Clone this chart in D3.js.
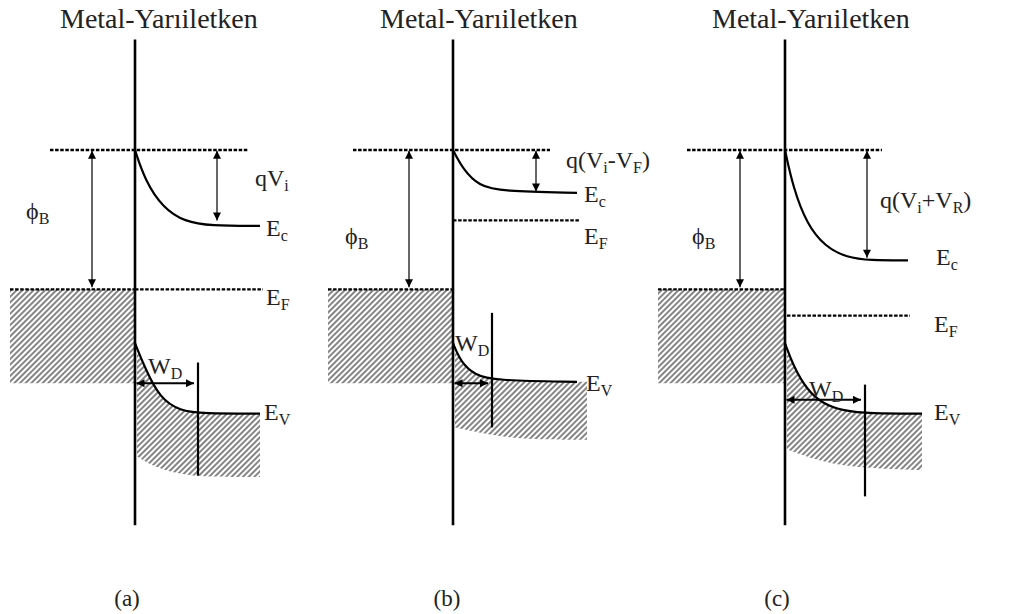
<!DOCTYPE html>
<html><head><meta charset="utf-8">
<script src="https://cdn.jsdelivr.net/npm/d3@7"></script>
<style>body{margin:0;background:#fff}svg{display:block}
text{font-family:"Liberation Serif","Times New Roman",Times,"DejaVu Serif",serif}</style>
</head><body>
<svg id="c" width="1016" height="614"></svg>
<script>
// ---------- data (energy measured downward from the barrier top, phiB = 100 units; distance from interface) ----------
const panels = ["(a)", "(b)", "(c)"];
const titleText = "Metal-Yarıiletken";
const phiB = [100, 100, 100];
const metalEF = [101, 101, 101];
const metalBottom = [169, 169, 169];
const semiEF = [101, 51, 120];
const bendArrow = [51, 30, 78];
const ecDist = [[0, 10, 28, 50, 75, 125], [0, 10, 26, 48, 124], [0, 8, 22, 40, 62, 85, 123]];
const ecLevel = [[0, 22, 42, 52, 55, 55], [0, 14, 26, 30, 31], [0, 27, 54, 70, 78, 80, 80]];
const evDist = [[0, 10, 25, 45, 68, 125], [0, 8, 22, 40, 124], [0, 8, 22, 38, 58, 85, 137]];
const evLevel = [[140, 158, 180, 189, 191, 191], [140, 154, 163, 167, 168], [140, 156, 174, 184, 189, 191, 191]];
const vbDist = [[2, 20, 45, 70, 125], [2, 40, 80, 134], [2, 32, 65, 137]];
const vbLevel = [[222, 230, 235, 237, 237], [201, 207, 210, 210], [217, 225, 230, 232]];
const wdDist = [63, 39, 80];
const wdTop = [154, 118, 170];
const wdBottom = [236, 201, 251];
const wdArrowLevel = [169, 169, 181];
const bendLabel = [
  [["qV", 0], ["i", 1]],
  [["q(V", 0], ["i", 1], ["-V", 0], ["F", 1], [")", 0]],
  [["q(V", 0], ["i", 1], ["+V", 0], ["R", 1], [")", 0]]
];
const ecLabel = [["E", 0], ["c", 1]];
const efLabel = [["E", 0], ["F", 1]];
const evLabel = [["E", 0], ["V", 1]];
const phiLabel = [["ϕ", 0], ["B", 1]];
const wdLabel = [["W", 0], ["D", 1]];

// ---------- layout ----------
const interfaceX = [135, 453, 785];
const topDash = [[-85, 113], [-100, 97], [-98, 97]];
const metalLeft = [-125, -125, -127];
const semiEFRange = [[0, 128], [0, 127], [2, 125]];
const bendArrowX = [82, 83, 82];
const phiArrowX = [-43, -44, -45];
const labelPos = {
  bend: [[255, 186], [566, 168], [880, 208]],
  ec: [[266, 236], [584, 202], [936, 265]],
  ef: [[266, 305], [584, 244], [934, 332]],
  ev: [[264, 420], [586, 391], [934, 420]],
  phi: [[26, 219], [345, 244], [692, 244]],
  wd: [[148, 374], [455, 351], [809, 397]],
  title: [60, 380, 712],
  panel: [127, 447, 777]
};

const svg = d3.select("#c");
const defs = svg.append("defs");
const pat = defs.append("pattern").attr("id", "hatch").attr("patternUnits", "userSpaceOnUse")
  .attr("width", 4).attr("height", 4).attr("patternTransform", "rotate(45)");
pat.append("rect").attr("width", 4).attr("height", 4).attr("fill", "#fff");
pat.append("line").attr("x1", 1).attr("y1", 0).attr("x2", 1).attr("y2", 4)
  .attr("stroke", "#666").attr("stroke-width", 1.6);
defs.append("marker").attr("id", "arr").attr("viewBox", "0 0 10 10").attr("refX", 10).attr("refY", 5)
  .attr("markerUnits", "userSpaceOnUse").attr("markerWidth", 9).attr("markerHeight", 8)
  .attr("orient", "auto-start-reverse")
  .append("path").attr("d", "M0,0 L10,5 L0,10 Z").attr("fill", "#000");

const y = d3.scaleLinear().domain([0, 100]).range([150, 288]);

function label(g, segs, x0, y0, size, sub) {
  const t = g.append("text").attr("x", x0).attr("y", y0)
    .attr("font-size", size).attr("fill", "#222");
  let low = false;
  segs.forEach(([s, isSub]) => {
    const ts = t.append("tspan").text(s);
    if (isSub && !low) { ts.attr("dy", 5).attr("font-size", sub); low = true; }
    else if (isSub) { ts.attr("font-size", sub); }
    else if (low) { ts.attr("dy", -5); low = false; }
  });
  return t;
}

panels.forEach((p, i) => {
  const ix = interfaceX[i];
  const x = d3.scaleLinear().domain([0, 100]).range([ix, ix + 100]);
  const g = svg.append("g");
  const line = d3.line().x(d => x(d[0])).y(d => y(d[1])).curve(d3.curveBasis);

  // metal hatch
  g.append("rect").attr("x", x(metalLeft[i])).attr("y", y(metalEF[i]))
    .attr("width", x(0) - x(metalLeft[i])).attr("height", y(metalBottom[i]) - y(metalEF[i]))
    .attr("fill", "url(#hatch)");

  // semiconductor valence-band hatch
  const ev = evDist[i].map((d, k) => [d, evLevel[i][k]]);
  const vb = vbDist[i].map((d, k) => [d, vbLevel[i][k]]);
  const right = vbDist[i][vbDist[i].length - 1];
  const evLast = evLevel[i][evLevel[i].length - 1];
  const areaPath = "M" + x(vbDist[i][0]) + "," + y(evLevel[i][0]) + "L" + line(ev).slice(1) +
    "L" + x(right) + "," + y(evLast) +
    "L" + line(vb.slice().reverse()).slice(1) + "Z";
  g.append("path").attr("d", areaPath).attr("fill", "url(#hatch)");

  // dashed levels
  const dash = (x1, x2, lv) => g.append("line").attr("x1", x(x1)).attr("x2", x(x2))
    .attr("y1", y(lv)).attr("y2", y(lv)).attr("stroke", "#000")
    .attr("stroke-width", 2.4).attr("stroke-dasharray", "3.5,1.6");
  dash(topDash[i][0], topDash[i][1], 0);
  dash(metalLeft[i], 0, metalEF[i]);
  dash(semiEFRange[i][0], semiEFRange[i][1], semiEF[i]);

  // bands
  g.append("path").attr("d", line(ecDist[i].map((d, k) => [d, ecLevel[i][k]])))
    .attr("fill", "none").attr("stroke", "#000").attr("stroke-width", 2.2);
  g.append("path").attr("d", line(ev)).attr("fill", "none").attr("stroke", "#000").attr("stroke-width", 2.2);

  // interface
  g.append("line").attr("x1", x(0)).attr("x2", x(0)).attr("y1", y(-80)).attr("y2", y(272))
    .attr("stroke", "#000").attr("stroke-width", 2.6);

  // WD line and arrow
  g.append("line").attr("x1", x(wdDist[i])).attr("x2", x(wdDist[i]))
    .attr("y1", y(wdTop[i])).attr("y2", y(wdBottom[i])).attr("stroke", "#000").attr("stroke-width", 2.2);
  g.append("line").attr("x1", x(1.5)).attr("x2", x(wdDist[i] - 4))
    .attr("y1", y(wdArrowLevel[i])).attr("y2", y(wdArrowLevel[i]))
    .attr("stroke", "#000").attr("stroke-width", 2)
    .attr("marker-start", "url(#arr)").attr("marker-end", "url(#arr)");

  // energy arrows
  const varrow = (dx, l1, l2) => g.append("line").attr("x1", x(dx)).attr("x2", x(dx))
    .attr("y1", y(l1)).attr("y2", y(l2)).attr("stroke", "#000").attr("stroke-width", 1.2)
    .attr("marker-start", "url(#arr)").attr("marker-end", "url(#arr)");
  varrow(phiArrowX[i], 0.5, phiB[i] - 0.5);
  varrow(bendArrowX[i], 0.5, bendArrow[i]);

  // labels
  g.append("text").attr("x", labelPos.title[i]).attr("y", 28)
    .attr("font-size", 28).attr("fill", "#222").text(titleText);
  g.append("text").attr("x", labelPos.panel[i]).attr("y", 606).attr("text-anchor", "middle")
    .attr("font-size", 23).attr("fill", "#222").text(p);
  label(g, bendLabel[i], labelPos.bend[i][0], labelPos.bend[i][1], 24, 16);
  label(g, ecLabel, labelPos.ec[i][0], labelPos.ec[i][1], 24, 16);
  label(g, efLabel, labelPos.ef[i][0], labelPos.ef[i][1], 24, 16);
  label(g, evLabel, labelPos.ev[i][0], labelPos.ev[i][1], 24, 16);
  label(g, phiLabel, labelPos.phi[i][0], labelPos.phi[i][1], 24, 16);
  label(g, wdLabel, labelPos.wd[i][0], labelPos.wd[i][1], 24, 16);
});
</script>
</body></html>
